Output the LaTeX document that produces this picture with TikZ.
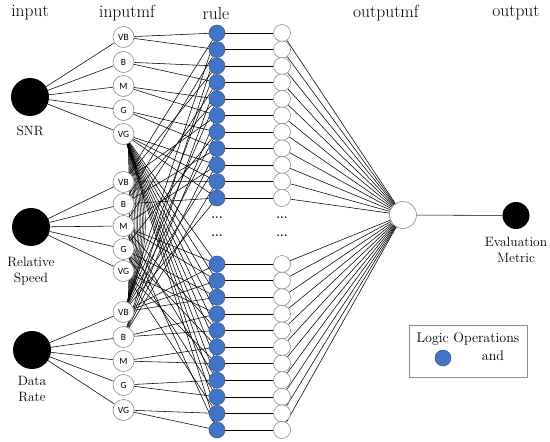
\documentclass[tikz,border=0pt]{standalone}
\usepackage{fontspec}
\newfontfamily\mffont{Carlito}
\usetikzlibrary{backgrounds}
\definecolor{rblue}{HTML}{4472C4}
\definecolor{rbord}{HTML}{2F5597}
\definecolor{cgray}{HTML}{8C8C8C}
\begin{document}
\begin{tikzpicture}[x=1pt,y=-1pt,
  inp/.style={circle,fill=black,minimum size=38pt,inner sep=0},
  mfn/.style={circle,draw=cgray,fill=white,line width=0.6pt,minimum size=21pt,inner sep=0,font=\mffont\fontsize{9.5}{9.5}\selectfont},
  rulen/.style={circle,draw=rbord,fill=rblue,minimum size=16pt,inner sep=0,line width=0.5pt},
  outc/.style={circle,draw=cgray,fill=white,minimum size=17pt,inner sep=0,line width=0.6pt},
  ttl/.style={font=\rmfamily\fontsize{17.5}{20}\selectfont},
  lab/.style={font=\rmfamily\fontsize{13.5}{16}\selectfont,align=center},
  dotn/.style={font=\rmfamily\bfseries\fontsize{12}{12}\selectfont,inner sep=0},
  wire/.style={line width=0.55pt,black}]
\useasboundingbox (0,0) rectangle (550,442);
% titles
\node[ttl] (t-in) at (30,13) {input};
\node[ttl] (t-mf) at (127,13) {inputmf};
\node[ttl] (t-rule) at (216,13) {rule};
\node[ttl] (t-omf) at (386,13) {outputmf};
\node[ttl] (t-out) at (516,13) {output};
% inputs
\node[inp] (snr) at (30,97) {};
\node[inp] (rs) at (31,227) {};
\node[inp] (dr) at (32,350) {};
\node[lab] (snrl) at (30,131) {SNR};
\node[lab] (rsl) at (31,271) {Relative\\Speed};
\node[lab] (drl) at (32,389) {Data\\Rate};
% membership functions
\foreach \n/\y [count=\i] in {VB/37,B/62,M/86,G/110,VG/134}
  \node[mfn] (s\i) at (123.5,\y) {\n};
\foreach \n/\y [count=\i] in {VB/182,B/204,M/226,G/249,VG/271}
  \node[mfn] (r\i) at (123.5,\y) {\n};
\foreach \n/\y [count=\i] in {VB/312,B/337,M/361,G/385,VG/410}
  \node[mfn] (d\i) at (123.5,\y) {\n};
% rules and rule outputs
\foreach \i in {1,...,11} {
  \node[rulen] (t\i) at (217,{33+(\i-1)*16.5}) {};
  \node[outc] (to\i) at (282,{33+(\i-1)*16.5}) {};
  \node[rulen] (b\i) at (217,{264+(\i-1)*16.6}) {};
  \node[outc] (bo\i) at (282,{264+(\i-1)*16.6}) {};
}
\node[dotn] (dd1) at (217,218) {...};
\node[dotn] (dd2) at (217,236) {...};
\node[dotn] (dd3) at (282,218) {...};
\node[dotn] (dd4) at (282,236) {...};
% output mf and output
\node[outc,minimum size=27pt] (omf) at (403,215) {};
\node[inp,minimum size=27pt] (out) at (516,215.5) {};
\node[lab] (outl) at (516,250) {Evaluation\\Metric};
% legend
\node[draw=cgray,line width=0.8pt,minimum width=118pt,minimum height=52pt,inner sep=0] (leg) at (468,351) {};
\node[font=\rmfamily\fontsize{14}{14}\selectfont] (legt) at (468,339.5) {Logic Operations};
\node[rulen] (legc) at (443,358) {};
\node[font=\rmfamily\fontsize{14}{14}\selectfont] (lega) at (493,356) {and};
% wires
\begin{scope}[on background layer]
\foreach \i in {1,...,5} {
  \draw[wire] (snr) -- (s\i);
  \draw[wire] (rs) -- (r\i);
  \draw[wire] (dr) -- (d\i);
}
\foreach \k/\s/\r/\d in {1/1/1/1,2/1/2/2,3/2/1/1,4/2/3/2,5/3/2/1,6/3/1/2,7/4/4/1,8/4/2/2,9/5/3/1,10/5/1/2,11/5/2/1} {
  \draw[wire] (s\s) -- (t\k);
  \draw[wire] (r\r) -- (t\k);
  \draw[wire] (d\d) -- (t\k);
}
\foreach \k/\s/\r/\d in {1/5/3/1,2/5/3/1,3/5/4/1,4/5/5/2,5/5/3/2,6/5/4/3,7/5/5/3,8/5/3/4,9/5/4/4,10/5/5/5,11/5/3/5} {
  \draw[wire] (s\s) -- (b\k);
  \draw[wire] (r\r) -- (b\k);
  \draw[wire] (d\d) -- (b\k);
}
\foreach \a in {2,4,...,22}
  \draw[wire,line width=0.45pt] (s5.-65) to[bend left=\a] (d1.65);
\foreach \i in {1,...,11} {
  \draw[wire] (t\i) -- (to\i);
  \draw[wire] (b\i) -- (bo\i);
  \draw[wire] (to\i) -- (omf);
  \draw[wire] (bo\i) -- (omf);
}
\draw[wire] (omf) -- (out);
\end{scope}
\end{tikzpicture}
\end{document}
